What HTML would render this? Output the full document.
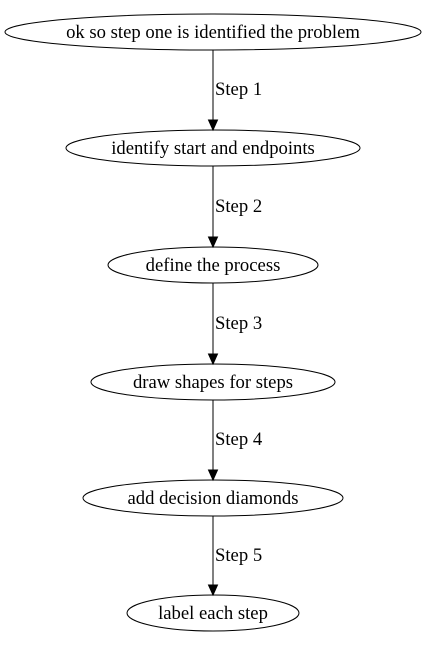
<!DOCTYPE html>
<html><head><style>html,body{margin:0;padding:0;background:#fff}</style></head>
<body>
<svg width="430" height="644" viewBox="0 0 430 644" xmlns="http://www.w3.org/2000/svg" font-family="'Liberation Serif', serif" font-size="18.67">
<rect width="430" height="644" fill="#fff"/>
<g fill="none" stroke="#000" stroke-width="1">
<ellipse cx="213" cy="32" rx="208" ry="18"/>
<ellipse cx="213" cy="148" rx="147" ry="18"/>
<ellipse cx="213" cy="265" rx="105" ry="18"/>
<ellipse cx="213" cy="382" rx="122" ry="18"/>
<ellipse cx="213" cy="498" rx="130" ry="18"/>
<ellipse cx="213" cy="613" rx="86" ry="18"/>
<line x1="213" y1="50" x2="213" y2="120"/>
<line x1="213" y1="166" x2="213" y2="237"/>
<line x1="213" y1="283" x2="213" y2="354"/>
<line x1="213" y1="400" x2="213" y2="470"/>
<line x1="213" y1="516" x2="213" y2="585"/>
</g>
<g fill="#000" stroke="#000">
<polygon points="208.5,120 217.5,120 213,130"/>
<polygon points="208.5,237 217.5,237 213,247"/>
<polygon points="208.5,354 217.5,354 213,364"/>
<polygon points="208.5,470 217.5,470 213,480"/>
<polygon points="208.5,585 217.5,585 213,595"/>
</g>
<g text-anchor="middle">
<text x="213" y="38">ok so step one is identified the problem</text>
<text x="213" y="154">identify start and endpoints</text>
<text x="213" y="271">define the process</text>
<text x="213" y="388">draw shapes for steps</text>
<text x="213" y="504">add decision diamonds</text>
<text x="213" y="619">label each step</text>
</g>
<g>
<text x="215" y="95">Step 1</text>
<text x="215" y="212">Step 2</text>
<text x="215" y="329">Step 3</text>
<text x="215" y="445">Step 4</text>
<text x="215" y="561">Step 5</text>
</g>
</svg>
</body></html>
